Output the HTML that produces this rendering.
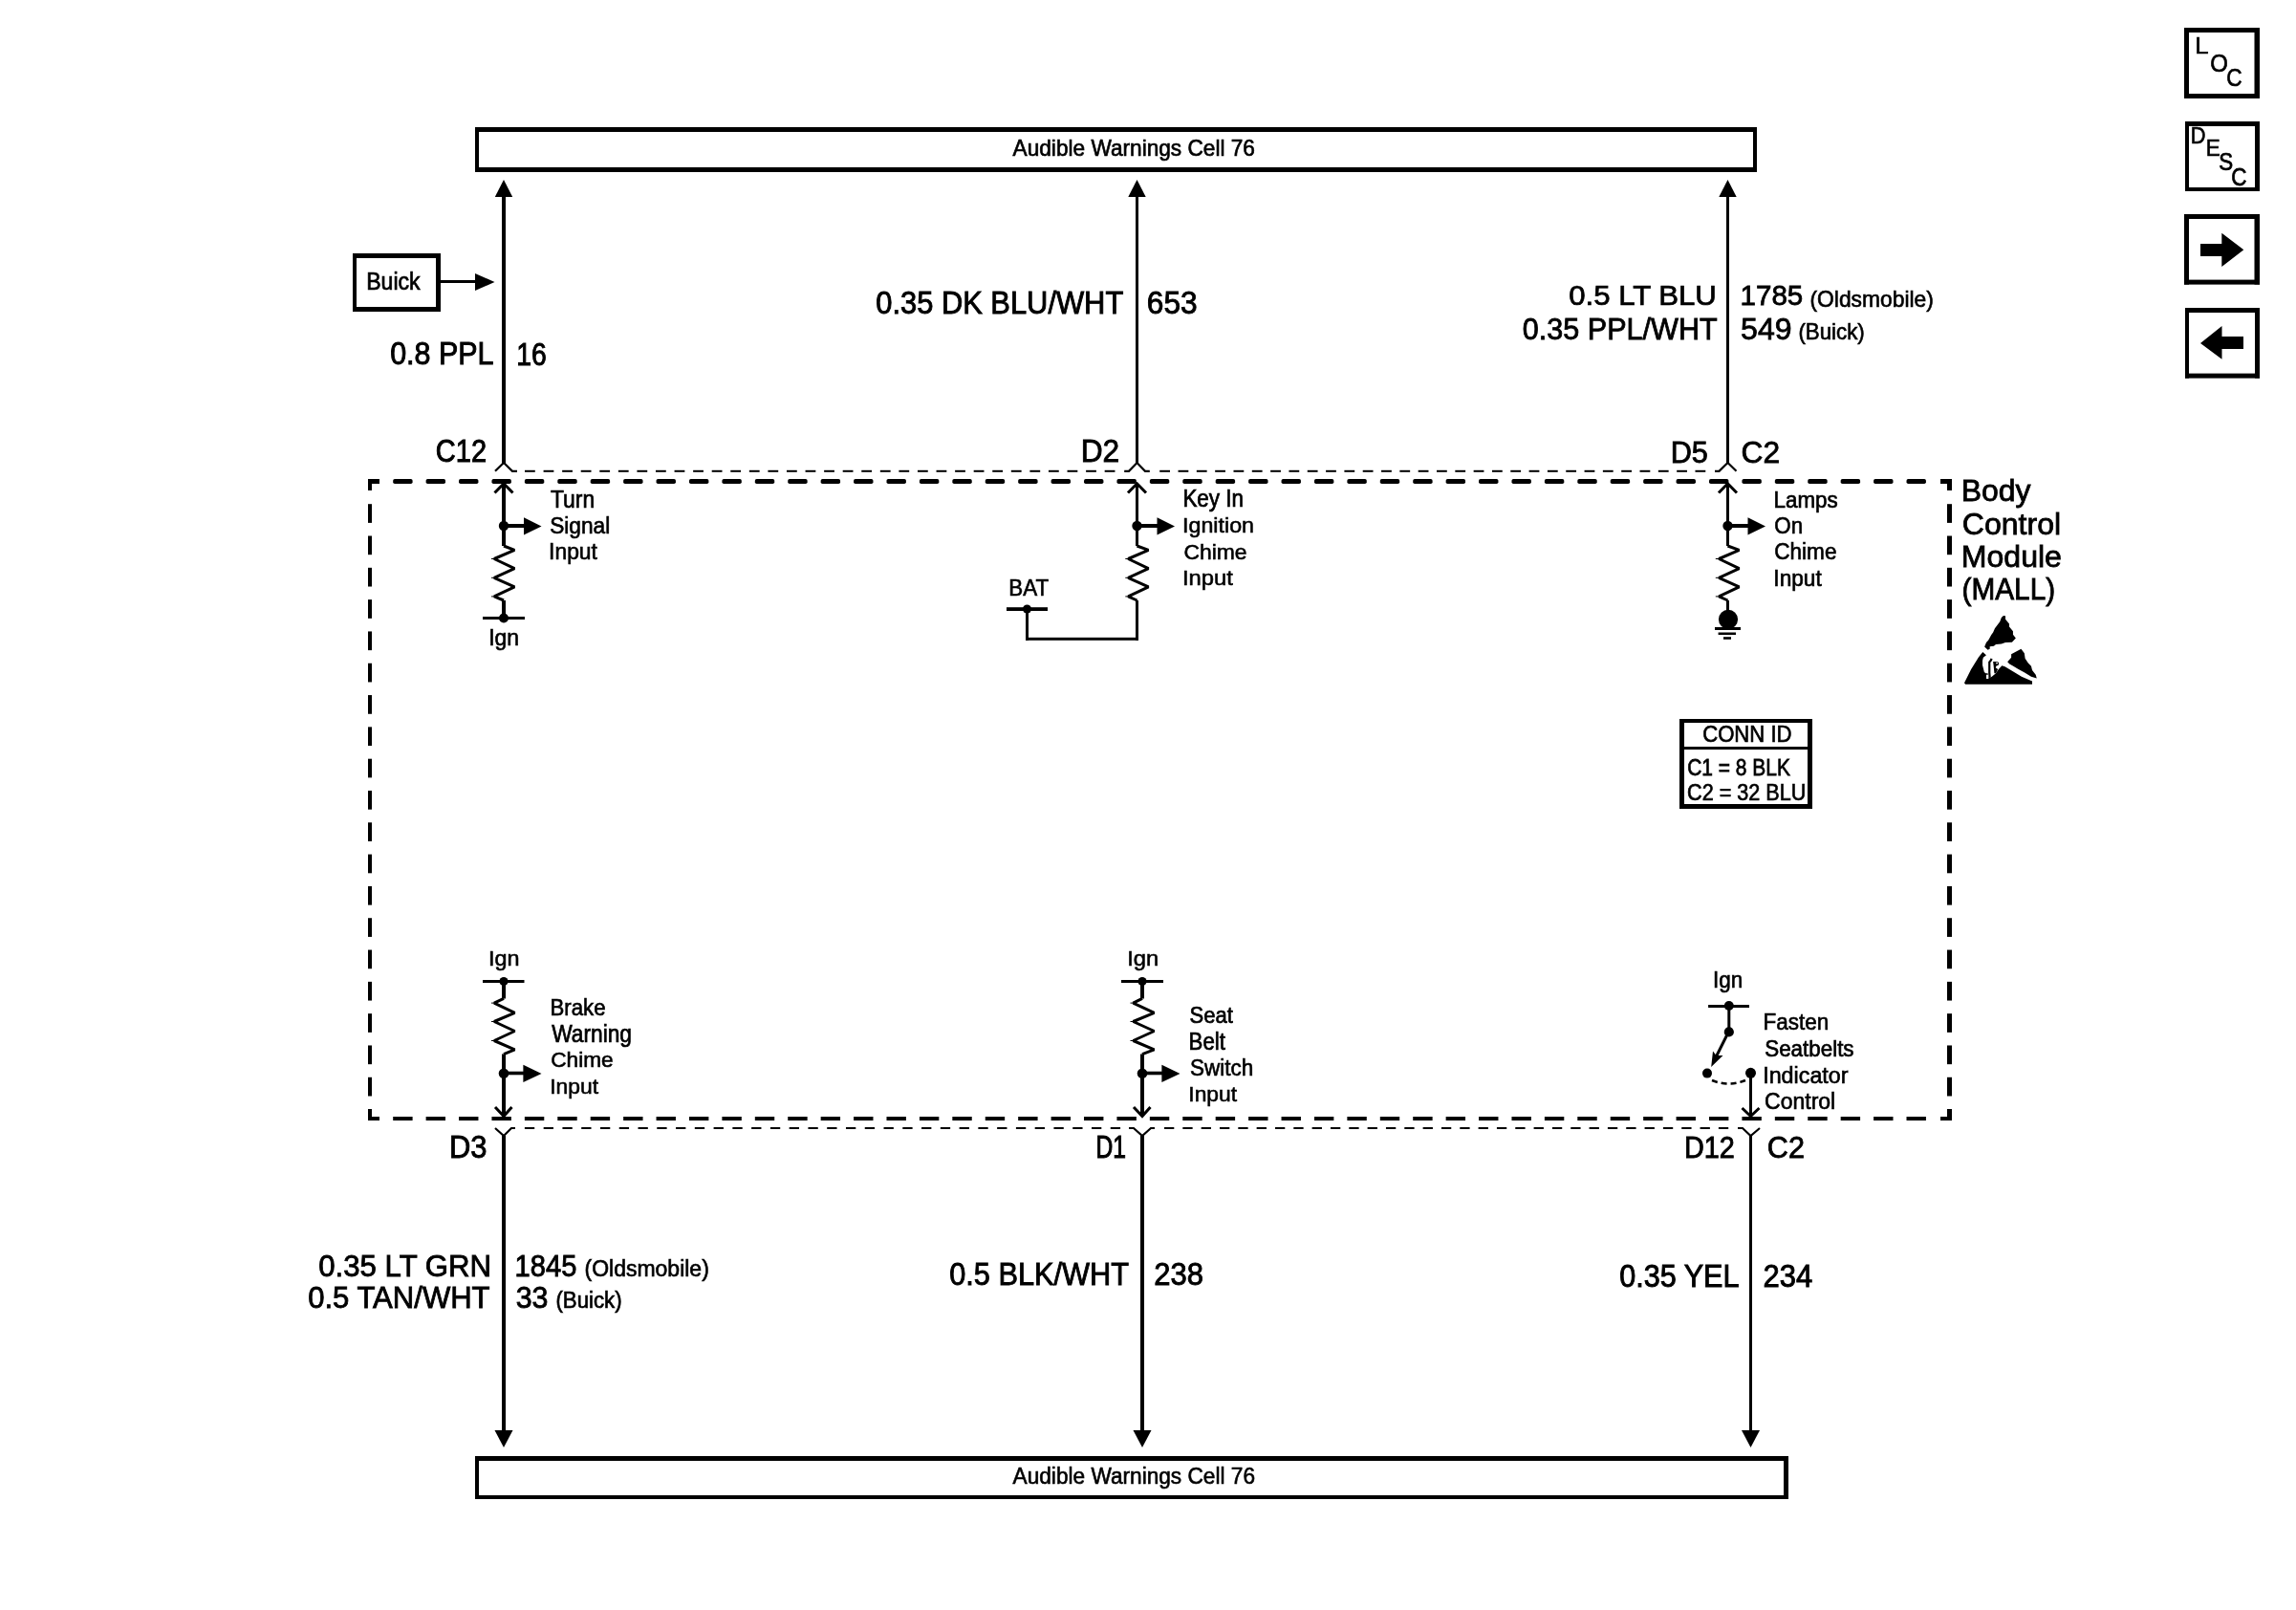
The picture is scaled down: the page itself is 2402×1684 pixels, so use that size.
<!DOCTYPE html>
<html><head><meta charset="utf-8"><style>
html,body{margin:0;padding:0;background:#fff;}
svg{display:block;filter:grayscale(1);}
text{font-family:"Liberation Sans",sans-serif;fill:#000;stroke:#000;}
</style></head><body>
<svg width="2402" height="1684" viewBox="0 0 2402 1684">
<rect x="0" y="0" width="2402" height="1684" fill="#fff"/>
<rect x="497" y="133" width="1341.00" height="5.00"/>
<rect x="497" y="175" width="1341.00" height="5.00"/>
<rect x="497" y="133" width="4.00" height="47.00"/>
<rect x="1834" y="133" width="4.00" height="47.00"/>
<text transform="translate(1059.57,163.38) scale(0.9295,1)" font-size="24.37" stroke-width="0.68">Audible Warnings Cell 76</text>
<rect x="497" y="1523" width="1374.00" height="5.00"/>
<rect x="497" y="1564" width="1374.00" height="4.00"/>
<rect x="497" y="1523" width="4.00" height="45.00"/>
<rect x="1866" y="1523" width="5.00" height="45.00"/>
<text transform="translate(1059.55,1552.20) scale(0.9803,1)" font-size="23.11" stroke-width="0.61">Audible Warnings Cell 76</text>
<polygon points="527.00,188.00 517.80,206.00 536.20,206.00"/>
<rect x="525.0" y="205" width="4.00" height="280.00"/>
<polygon points="1189.50,188.00 1180.30,206.00 1198.70,206.00"/>
<rect x="1188.0" y="205" width="3.00" height="280.00"/>
<polygon points="1807.50,188.00 1798.30,206.00 1816.70,206.00"/>
<rect x="1806.0" y="205" width="3.00" height="280.00"/>
<rect x="525.0" y="1188" width="4.00" height="309.00"/>
<polygon points="517.50,1496.00 536.50,1496.00 527.00,1514.00"/>
<rect x="1193.0" y="1188" width="4.00" height="309.00"/>
<polygon points="1185.50,1496.00 1204.50,1496.00 1195.00,1514.00"/>
<rect x="1830.0" y="1188" width="3.00" height="309.00"/>
<polygon points="1822.00,1496.00 1841.00,1496.00 1831.50,1514.00"/>
<rect x="369" y="265" width="92.00" height="5.00"/>
<rect x="369" y="321" width="92.00" height="5.00"/>
<rect x="369" y="265" width="4.00" height="61.00"/>
<rect x="456" y="265" width="5.00" height="61.00"/>
<text transform="translate(383.13,302.67) scale(0.9169,1)" font-size="25.21" stroke-width="0.71">Buick</text>
<rect x="461" y="293" width="37.00" height="3.00"/>
<polygon points="497.00,286.00 497.00,304.00 517.50,295.00"/>
<text transform="translate(408.15,381.47) scale(0.9103,1)" font-size="33.48" stroke-width="0.95">0.8 PPL</text>
<text transform="translate(540.26,381.68) scale(0.8735,1)" font-size="32.50" stroke-width="0.97">16</text>
<text transform="translate(916.22,327.57) scale(0.9380,1)" font-size="32.92" stroke-width="0.91">0.35 DK BLU/WHT</text>
<text transform="translate(1199.81,327.57) scale(0.9627,1)" font-size="32.92" stroke-width="0.89">653</text>
<text transform="translate(1641.17,319.11) scale(1.0354,1)" font-size="30.11" stroke-width="0.75">0.5 LT BLU</text>
<text transform="translate(1592.81,354.60) scale(0.9922,1)" font-size="30.81" stroke-width="0.81">0.35 PPL/WHT</text>
<text transform="translate(1820.54,319.11) scale(0.9826,1)" font-size="30.11" stroke-width="0.80">1785</text>
<text transform="translate(1893.49,320.69) scale(0.9589,1)" font-size="23.81" stroke-width="0.64">(Oldsmobile)</text>
<text transform="translate(1821.12,354.60) scale(1.0407,1)" font-size="30.81" stroke-width="0.77">549</text>
<text transform="translate(1881.43,354.69) scale(0.9361,1)" font-size="23.81" stroke-width="0.66">(Buick)</text>
<text transform="translate(455.84,483.08) scale(0.8942,1)" font-size="32.50" stroke-width="0.94">C12</text>
<text transform="translate(1130.72,483.08) scale(0.9720,1)" font-size="32.64" stroke-width="0.87">D2</text>
<text transform="translate(1747.70,483.58) scale(0.9512,1)" font-size="32.22" stroke-width="0.88">D5</text>
<text transform="translate(1821.60,483.58) scale(0.9854,1)" font-size="32.22" stroke-width="0.85">C2</text>
<path d="M518,492.8 L527,484 L536,492.8 L541,492.8" fill="none" stroke="#000" stroke-width="2.2" stroke-linecap="butt" stroke-linejoin="miter" />
<path d="M1176.2,492.8 L1181,492.8 L1189.5,484 L1198,492.8 L1202.8,492.8" fill="none" stroke="#000" stroke-width="2.2" stroke-linecap="butt" stroke-linejoin="miter" />
<path d="M1794,492.8 L1798.5,492.8 L1807.5,484 L1816.5,492.8" fill="none" stroke="#000" stroke-width="2.2" stroke-linecap="butt" stroke-linejoin="miter" />
<rect x="549" y="491.8" width="10.80" height="2.00"/>
<rect x="568.57" y="491.8" width="10.80" height="2.00"/>
<rect x="588.14" y="491.8" width="10.80" height="2.00"/>
<rect x="607.71" y="491.8" width="10.80" height="2.00"/>
<rect x="627.28" y="491.8" width="10.80" height="2.00"/>
<rect x="646.85" y="491.8" width="10.80" height="2.00"/>
<rect x="666.42" y="491.8" width="10.80" height="2.00"/>
<rect x="685.99" y="491.8" width="10.80" height="2.00"/>
<rect x="705.56" y="491.8" width="10.80" height="2.00"/>
<rect x="725.13" y="491.8" width="10.80" height="2.00"/>
<rect x="744.7" y="491.8" width="10.80" height="2.00"/>
<rect x="764.27" y="491.8" width="10.80" height="2.00"/>
<rect x="783.84" y="491.8" width="10.80" height="2.00"/>
<rect x="803.41" y="491.8" width="10.80" height="2.00"/>
<rect x="822.98" y="491.8" width="10.80" height="2.00"/>
<rect x="842.55" y="491.8" width="10.80" height="2.00"/>
<rect x="862.12" y="491.8" width="10.80" height="2.00"/>
<rect x="881.69" y="491.8" width="10.80" height="2.00"/>
<rect x="901.26" y="491.8" width="10.80" height="2.00"/>
<rect x="920.83" y="491.8" width="10.80" height="2.00"/>
<rect x="940.4" y="491.8" width="10.80" height="2.00"/>
<rect x="959.97" y="491.8" width="10.80" height="2.00"/>
<rect x="979.54" y="491.8" width="10.80" height="2.00"/>
<rect x="999.11" y="491.8" width="10.80" height="2.00"/>
<rect x="1018.68" y="491.8" width="10.80" height="2.00"/>
<rect x="1038.25" y="491.8" width="10.80" height="2.00"/>
<rect x="1057.82" y="491.8" width="10.80" height="2.00"/>
<rect x="1077.39" y="491.8" width="10.80" height="2.00"/>
<rect x="1096.96" y="491.8" width="10.80" height="2.00"/>
<rect x="1116.53" y="491.8" width="10.80" height="2.00"/>
<rect x="1136.1" y="491.8" width="10.80" height="2.00"/>
<rect x="1155.67" y="491.8" width="10.80" height="2.00"/>
<rect x="1213.2" y="491.8" width="10.80" height="2.00"/>
<rect x="1232.52" y="491.8" width="10.80" height="2.00"/>
<rect x="1251.84" y="491.8" width="10.80" height="2.00"/>
<rect x="1271.16" y="491.8" width="10.80" height="2.00"/>
<rect x="1290.48" y="491.8" width="10.80" height="2.00"/>
<rect x="1309.8" y="491.8" width="10.80" height="2.00"/>
<rect x="1329.12" y="491.8" width="10.80" height="2.00"/>
<rect x="1348.44" y="491.8" width="10.80" height="2.00"/>
<rect x="1367.76" y="491.8" width="10.80" height="2.00"/>
<rect x="1387.08" y="491.8" width="10.80" height="2.00"/>
<rect x="1406.4" y="491.8" width="10.80" height="2.00"/>
<rect x="1425.72" y="491.8" width="10.80" height="2.00"/>
<rect x="1445.04" y="491.8" width="10.80" height="2.00"/>
<rect x="1464.36" y="491.8" width="10.80" height="2.00"/>
<rect x="1483.68" y="491.8" width="10.80" height="2.00"/>
<rect x="1503.0" y="491.8" width="10.80" height="2.00"/>
<rect x="1522.32" y="491.8" width="10.80" height="2.00"/>
<rect x="1541.64" y="491.8" width="10.80" height="2.00"/>
<rect x="1560.96" y="491.8" width="10.80" height="2.00"/>
<rect x="1580.28" y="491.8" width="10.80" height="2.00"/>
<rect x="1599.6" y="491.8" width="10.80" height="2.00"/>
<rect x="1618.92" y="491.8" width="10.80" height="2.00"/>
<rect x="1638.24" y="491.8" width="10.80" height="2.00"/>
<rect x="1657.56" y="491.8" width="10.80" height="2.00"/>
<rect x="1676.88" y="491.8" width="10.80" height="2.00"/>
<rect x="1696.2" y="491.8" width="10.80" height="2.00"/>
<rect x="1715.52" y="491.8" width="10.80" height="2.00"/>
<rect x="1734.84" y="491.8" width="10.80" height="2.00"/>
<rect x="1754.16" y="491.8" width="10.80" height="2.00"/>
<rect x="1773.48" y="491.8" width="10.80" height="2.00"/>
<rect x="385" y="501" width="12.00" height="5.00"/>
<rect x="2030" y="501" width="12.00" height="5.00"/>
<rect x="411.20" y="501" width="20.4" height="5" rx="1.8"/>
<rect x="445.62" y="501" width="20.4" height="5" rx="1.8"/>
<rect x="480.04" y="501" width="20.4" height="5" rx="1.8"/>
<rect x="514.46" y="501" width="20.4" height="5" rx="1.8"/>
<rect x="548.88" y="501" width="20.4" height="5" rx="1.8"/>
<rect x="583.30" y="501" width="20.4" height="5" rx="1.8"/>
<rect x="617.72" y="501" width="20.4" height="5" rx="1.8"/>
<rect x="652.14" y="501" width="20.4" height="5" rx="1.8"/>
<rect x="686.56" y="501" width="20.4" height="5" rx="1.8"/>
<rect x="720.98" y="501" width="20.4" height="5" rx="1.8"/>
<rect x="755.40" y="501" width="20.4" height="5" rx="1.8"/>
<rect x="789.82" y="501" width="20.4" height="5" rx="1.8"/>
<rect x="824.24" y="501" width="20.4" height="5" rx="1.8"/>
<rect x="858.66" y="501" width="20.4" height="5" rx="1.8"/>
<rect x="893.08" y="501" width="20.4" height="5" rx="1.8"/>
<rect x="927.50" y="501" width="20.4" height="5" rx="1.8"/>
<rect x="961.92" y="501" width="20.4" height="5" rx="1.8"/>
<rect x="996.34" y="501" width="20.4" height="5" rx="1.8"/>
<rect x="1030.76" y="501" width="20.4" height="5" rx="1.8"/>
<rect x="1065.18" y="501" width="20.4" height="5" rx="1.8"/>
<rect x="1099.60" y="501" width="20.4" height="5" rx="1.8"/>
<rect x="1134.02" y="501" width="20.4" height="5" rx="1.8"/>
<rect x="1168.44" y="501" width="20.4" height="5" rx="1.8"/>
<rect x="1202.86" y="501" width="20.4" height="5" rx="1.8"/>
<rect x="1237.28" y="501" width="20.4" height="5" rx="1.8"/>
<rect x="1271.70" y="501" width="20.4" height="5" rx="1.8"/>
<rect x="1306.12" y="501" width="20.4" height="5" rx="1.8"/>
<rect x="1340.54" y="501" width="20.4" height="5" rx="1.8"/>
<rect x="1374.96" y="501" width="20.4" height="5" rx="1.8"/>
<rect x="1409.38" y="501" width="20.4" height="5" rx="1.8"/>
<rect x="1443.80" y="501" width="20.4" height="5" rx="1.8"/>
<rect x="1478.22" y="501" width="20.4" height="5" rx="1.8"/>
<rect x="1512.64" y="501" width="20.4" height="5" rx="1.8"/>
<rect x="1547.06" y="501" width="20.4" height="5" rx="1.8"/>
<rect x="1581.48" y="501" width="20.4" height="5" rx="1.8"/>
<rect x="1615.90" y="501" width="20.4" height="5" rx="1.8"/>
<rect x="1650.32" y="501" width="20.4" height="5" rx="1.8"/>
<rect x="1684.74" y="501" width="20.4" height="5" rx="1.8"/>
<rect x="1719.16" y="501" width="20.4" height="5" rx="1.8"/>
<rect x="1753.58" y="501" width="20.4" height="5" rx="1.8"/>
<rect x="1788.00" y="501" width="20.4" height="5" rx="1.8"/>
<rect x="1822.42" y="501" width="20.4" height="5" rx="1.8"/>
<rect x="1856.84" y="501" width="20.4" height="5" rx="1.8"/>
<rect x="1891.26" y="501" width="20.4" height="5" rx="1.8"/>
<rect x="1925.68" y="501" width="20.4" height="5" rx="1.8"/>
<rect x="1960.10" y="501" width="20.4" height="5" rx="1.8"/>
<rect x="1994.52" y="501" width="20.4" height="5" rx="1.8"/>
<rect x="385" y="1168" width="12.00" height="4.00"/>
<rect x="2030" y="1168" width="12.00" height="4.00"/>
<rect x="411.2" y="1168" width="20.40" height="4.00"/>
<rect x="445.62" y="1168" width="20.40" height="4.00"/>
<rect x="480.04" y="1168" width="20.40" height="4.00"/>
<rect x="514.46" y="1168" width="20.40" height="4.00"/>
<rect x="548.88" y="1168" width="20.40" height="4.00"/>
<rect x="583.3" y="1168" width="20.40" height="4.00"/>
<rect x="617.72" y="1168" width="20.40" height="4.00"/>
<rect x="652.14" y="1168" width="20.40" height="4.00"/>
<rect x="686.56" y="1168" width="20.40" height="4.00"/>
<rect x="720.98" y="1168" width="20.40" height="4.00"/>
<rect x="755.4" y="1168" width="20.40" height="4.00"/>
<rect x="789.82" y="1168" width="20.40" height="4.00"/>
<rect x="824.24" y="1168" width="20.40" height="4.00"/>
<rect x="858.66" y="1168" width="20.40" height="4.00"/>
<rect x="893.08" y="1168" width="20.40" height="4.00"/>
<rect x="927.5" y="1168" width="20.40" height="4.00"/>
<rect x="961.92" y="1168" width="20.40" height="4.00"/>
<rect x="996.34" y="1168" width="20.40" height="4.00"/>
<rect x="1030.76" y="1168" width="20.40" height="4.00"/>
<rect x="1065.18" y="1168" width="20.40" height="4.00"/>
<rect x="1099.6" y="1168" width="20.40" height="4.00"/>
<rect x="1134.02" y="1168" width="20.40" height="4.00"/>
<rect x="1168.44" y="1168" width="20.40" height="4.00"/>
<rect x="1202.86" y="1168" width="20.40" height="4.00"/>
<rect x="1237.28" y="1168" width="20.40" height="4.00"/>
<rect x="1271.7" y="1168" width="20.40" height="4.00"/>
<rect x="1306.12" y="1168" width="20.40" height="4.00"/>
<rect x="1340.54" y="1168" width="20.40" height="4.00"/>
<rect x="1374.96" y="1168" width="20.40" height="4.00"/>
<rect x="1409.38" y="1168" width="20.40" height="4.00"/>
<rect x="1443.8" y="1168" width="20.40" height="4.00"/>
<rect x="1478.22" y="1168" width="20.40" height="4.00"/>
<rect x="1512.64" y="1168" width="20.40" height="4.00"/>
<rect x="1547.06" y="1168" width="20.40" height="4.00"/>
<rect x="1581.48" y="1168" width="20.40" height="4.00"/>
<rect x="1615.9" y="1168" width="20.40" height="4.00"/>
<rect x="1650.32" y="1168" width="20.40" height="4.00"/>
<rect x="1684.74" y="1168" width="20.40" height="4.00"/>
<rect x="1719.16" y="1168" width="20.40" height="4.00"/>
<rect x="1753.58" y="1168" width="20.40" height="4.00"/>
<rect x="1788.0" y="1168" width="20.40" height="4.00"/>
<rect x="1822.42" y="1168" width="20.40" height="4.00"/>
<rect x="1856.84" y="1168" width="20.40" height="4.00"/>
<rect x="1891.26" y="1168" width="20.40" height="4.00"/>
<rect x="1925.68" y="1168" width="20.40" height="4.00"/>
<rect x="1960.1" y="1168" width="20.40" height="4.00"/>
<rect x="1994.52" y="1168" width="20.40" height="4.00"/>
<rect x="385" y="501" width="4.00" height="12.00"/>
<rect x="385" y="1160" width="4.00" height="12.00"/>
<rect x="2037" y="501" width="5.00" height="12.00"/>
<rect x="2037" y="1160" width="5.00" height="12.00"/>
<rect x="385" y="527.2" width="4.00" height="19.70"/>
<rect x="2037" y="527.2" width="5.00" height="19.70"/>
<rect x="385" y="560.51" width="4.00" height="19.70"/>
<rect x="2037" y="560.51" width="5.00" height="19.70"/>
<rect x="385" y="593.82" width="4.00" height="19.70"/>
<rect x="2037" y="593.82" width="5.00" height="19.70"/>
<rect x="385" y="627.13" width="4.00" height="19.70"/>
<rect x="2037" y="627.13" width="5.00" height="19.70"/>
<rect x="385" y="660.44" width="4.00" height="19.70"/>
<rect x="2037" y="660.44" width="5.00" height="19.70"/>
<rect x="385" y="693.75" width="4.00" height="19.70"/>
<rect x="2037" y="693.75" width="5.00" height="19.70"/>
<rect x="385" y="727.06" width="4.00" height="19.70"/>
<rect x="2037" y="727.06" width="5.00" height="19.70"/>
<rect x="385" y="760.37" width="4.00" height="19.70"/>
<rect x="2037" y="760.37" width="5.00" height="19.70"/>
<rect x="385" y="793.68" width="4.00" height="19.70"/>
<rect x="2037" y="793.68" width="5.00" height="19.70"/>
<rect x="385" y="826.99" width="4.00" height="19.70"/>
<rect x="2037" y="826.99" width="5.00" height="19.70"/>
<rect x="385" y="860.3" width="4.00" height="19.70"/>
<rect x="2037" y="860.3" width="5.00" height="19.70"/>
<rect x="385" y="893.61" width="4.00" height="19.70"/>
<rect x="2037" y="893.61" width="5.00" height="19.70"/>
<rect x="385" y="926.92" width="4.00" height="19.70"/>
<rect x="2037" y="926.92" width="5.00" height="19.70"/>
<rect x="385" y="960.23" width="4.00" height="19.70"/>
<rect x="2037" y="960.23" width="5.00" height="19.70"/>
<rect x="385" y="993.54" width="4.00" height="19.70"/>
<rect x="2037" y="993.54" width="5.00" height="19.70"/>
<rect x="385" y="1026.85" width="4.00" height="19.70"/>
<rect x="2037" y="1026.85" width="5.00" height="19.70"/>
<rect x="385" y="1060.16" width="4.00" height="19.70"/>
<rect x="2037" y="1060.16" width="5.00" height="19.70"/>
<rect x="385" y="1093.47" width="4.00" height="19.70"/>
<rect x="2037" y="1093.47" width="5.00" height="19.70"/>
<rect x="385" y="1126.78" width="4.00" height="19.70"/>
<rect x="2037" y="1126.78" width="5.00" height="19.70"/>
<path d="M517.5,515.5 L527,505.8 L536.5,515.5" fill="none" stroke="#000" stroke-width="3.0" stroke-linecap="butt" stroke-linejoin="miter" />
<rect x="525" y="506" width="4.00" height="65.00"/>
<circle cx="527" cy="550" r="5.2"/>
<rect x="527" y="548" width="22.00" height="4.00"/>
<polygon points="548.00,541.30 548.00,559.60 566.50,550.50"/>
<path d="M1180.0,515.5 L1189.5,505.8 L1199.0,515.5" fill="none" stroke="#000" stroke-width="3.0" stroke-linecap="butt" stroke-linejoin="miter" />
<rect x="1188.0" y="506" width="3.00" height="65.00"/>
<circle cx="1189.5" cy="550" r="5.2"/>
<rect x="1189.5" y="548" width="22.00" height="4.00"/>
<polygon points="1210.50,541.30 1210.50,559.60 1229.00,550.50"/>
<path d="M1798.0,515.5 L1807.5,505.8 L1817.0,515.5" fill="none" stroke="#000" stroke-width="3.0" stroke-linecap="butt" stroke-linejoin="miter" />
<rect x="1806.0" y="506" width="3.00" height="65.00"/>
<circle cx="1807.5" cy="550" r="5.2"/>
<rect x="1807.5" y="548" width="22.00" height="4.00"/>
<polygon points="1828.50,541.30 1828.50,559.60 1847.00,550.50"/>
<path d="M527.00,571.00 L538.30,575.40 L517.00,584.50 L538.30,594.60 L517.00,604.30 L538.30,613.90 L517.00,623.90 L527.00,628.00" fill="none" stroke="#000" stroke-width="3.0" stroke-linecap="butt" stroke-linejoin="bevel" />
<rect x="514.0" y="584.0" width="3.00" height="1.00"/>
<rect x="514.0" y="603.8" width="3.00" height="1.00"/>
<rect x="514.0" y="623.4" width="3.00" height="1.00"/>
<path d="M1189.50,571.00 L1201.50,575.40 L1180.30,584.50 L1201.50,594.60 L1180.30,604.30 L1201.50,613.90 L1180.30,623.90 L1189.50,628.00" fill="none" stroke="#000" stroke-width="3.0" stroke-linecap="butt" stroke-linejoin="bevel" />
<rect x="1177.3" y="584.0" width="3.00" height="1.00"/>
<rect x="1177.3" y="603.8" width="3.00" height="1.00"/>
<rect x="1177.3" y="623.4" width="3.00" height="1.00"/>
<path d="M1807.50,571.00 L1819.50,575.40 L1798.30,584.50 L1819.50,594.60 L1798.30,604.30 L1819.50,613.90 L1798.30,623.90 L1807.50,628.00" fill="none" stroke="#000" stroke-width="3.0" stroke-linecap="butt" stroke-linejoin="bevel" />
<rect x="1794.8" y="584.0" width="3.50" height="1.00"/>
<rect x="1794.8" y="603.8" width="3.50" height="1.00"/>
<rect x="1794.8" y="623.4" width="3.50" height="1.00"/>
<rect x="525" y="628" width="4.00" height="18.50"/>
<rect x="505" y="645" width="44.00" height="3.00"/>
<circle cx="527" cy="646.5" r="5"/>
<text transform="translate(511.19,674.89) scale(0.9726,1)" font-size="23.67" stroke-width="0.63">Ign</text>
<text transform="translate(575.92,531.48) scale(0.9187,1)" font-size="24.93" stroke-width="0.70">Turn</text>
<text transform="translate(575.17,558.49) scale(0.9357,1)" font-size="24.23" stroke-width="0.67">Signal</text>
<text transform="translate(574.10,585.40) scale(0.9776,1)" font-size="23.39" stroke-width="0.62">Input</text>
<text transform="translate(1237.38,530.37) scale(0.8970,1)" font-size="25.07" stroke-width="0.73">Key In</text>
<text transform="translate(1237.05,557.21) scale(1.0376,1)" font-size="22.41" stroke-width="0.56">Ignition</text>
<text transform="translate(1238.43,584.70) scale(0.9953,1)" font-size="22.97" stroke-width="0.60">Chime</text>
<text transform="translate(1237.00,612.01) scale(1.0608,1)" font-size="22.41" stroke-width="0.55">Input</text>
<text transform="translate(1855.58,531.18) scale(0.9084,1)" font-size="24.65" stroke-width="0.70">Lamps</text>
<text transform="translate(1856.36,557.99) scale(0.9490,1)" font-size="23.53" stroke-width="0.64">On</text>
<text transform="translate(1856.25,585.30) scale(0.9709,1)" font-size="23.25" stroke-width="0.62">Chime</text>
<text transform="translate(1855.33,612.89) scale(0.9355,1)" font-size="24.23" stroke-width="0.67">Input</text>
<rect x="1188" y="628" width="3.00" height="41.80"/>
<rect x="1073" y="666.8" width="118.00" height="3.00"/>
<rect x="1073" y="637" width="3.00" height="32.80"/>
<rect x="1053" y="635.2" width="43.00" height="3.80"/>
<circle cx="1074.5" cy="637" r="4.6"/>
<text transform="translate(1055.26,622.70) scale(0.9703,1)" font-size="23.11" stroke-width="0.62">BAT</text>
<rect x="1806" y="628" width="3.00" height="17.00"/>
<circle cx="1808" cy="647.8" r="10.1"/>
<rect x="1794" y="656" width="27.00" height="3.00"/>
<rect x="1797.6" y="661.5" width="18.40" height="2.50"/>
<rect x="1803" y="666.2" width="8.00" height="2.60"/>
<text transform="translate(2051.78,524.20) scale(1.0317,1)" font-size="30.95" stroke-width="0.78">Body</text>
<text transform="translate(2052.77,559.30) scale(1.0315,1)" font-size="31.09" stroke-width="0.78">Control</text>
<text transform="translate(2051.77,592.60) scale(1.0413,1)" font-size="30.81" stroke-width="0.77">Module</text>
<text transform="translate(2052.56,626.80) scale(0.9574,1)" font-size="31.09" stroke-width="0.84">(MALL)</text>
<rect x="1757" y="752" width="139.00" height="4.00"/>
<rect x="1757" y="841" width="139.00" height="5.00"/>
<rect x="1757" y="752" width="5.00" height="94.00"/>
<rect x="1891" y="752" width="5.00" height="94.00"/>
<rect x="1762" y="781" width="129.00" height="3.00"/>
<text transform="translate(1781.18,776.49) scale(0.9409,1)" font-size="23.53" stroke-width="0.65">CONN ID</text>
<text transform="translate(1765.15,811.38) scale(0.8462,1)" font-size="24.79" stroke-width="0.76">C1 = 8 BLK</text>
<text transform="translate(1765.11,836.69) scale(0.9070,1)" font-size="23.81" stroke-width="0.68">C2 = 32 BLU</text>
<rect x="505" y="1025" width="43.50" height="3.00"/>
<circle cx="527" cy="1026.5" r="4.6"/>
<rect x="525.0" y="1026" width="4.00" height="18.50"/>
<path d="M527.00,1044.30 L517.00,1049.10 L538.50,1059.30 L517.00,1068.50 L538.50,1078.50 L517.00,1088.50 L538.50,1097.80 L527.00,1102.60" fill="none" stroke="#000" stroke-width="3.0" stroke-linecap="butt" stroke-linejoin="bevel" />
<rect x="514.0" y="1048.6" width="3.00" height="1.00"/>
<rect x="514.0" y="1068.0" width="3.00" height="1.00"/>
<rect x="514.0" y="1088.0" width="3.00" height="1.00"/>
<rect x="525.0" y="1102.5" width="4.00" height="64.50"/>
<circle cx="527" cy="1122.7" r="5.3"/>
<rect x="527" y="1120.7" width="21.00" height="3.60"/>
<polygon points="547.40,1113.80 547.40,1132.00 566.50,1122.90"/>
<path d="M518,1158 L527,1167.5 L535.5,1158" fill="none" stroke="#000" stroke-width="3.0" stroke-linecap="butt" stroke-linejoin="miter" />
<path d="M518,1180 L527,1188 L535,1180 L539,1180" fill="none" stroke="#000" stroke-width="2.2" stroke-linecap="butt" stroke-linejoin="miter" />
<rect x="1173" y="1025" width="44.00" height="3.00"/>
<circle cx="1195" cy="1026.5" r="4.6"/>
<rect x="1193.0" y="1026" width="4.00" height="18.50"/>
<path d="M1195.00,1044.30 L1185.50,1049.10 L1207.50,1059.30 L1185.50,1068.50 L1207.50,1078.50 L1185.50,1088.50 L1207.50,1097.80 L1195.00,1102.60" fill="none" stroke="#000" stroke-width="3.0" stroke-linecap="butt" stroke-linejoin="bevel" />
<rect x="1182.5" y="1048.6" width="3.00" height="1.00"/>
<rect x="1182.5" y="1068.0" width="3.00" height="1.00"/>
<rect x="1182.5" y="1088.0" width="3.00" height="1.00"/>
<rect x="1193.0" y="1102.5" width="4.00" height="64.50"/>
<circle cx="1195" cy="1122.7" r="5.3"/>
<rect x="1195" y="1120.7" width="21.00" height="3.60"/>
<polygon points="1215.40,1113.80 1215.40,1132.00 1234.50,1122.90"/>
<path d="M1186,1158 L1195,1167.5 L1203.5,1158" fill="none" stroke="#000" stroke-width="3.0" stroke-linecap="butt" stroke-linejoin="miter" />
<path d="M1181,1180 L1186,1180 L1195,1188 L1204,1180 L1208,1180" fill="none" stroke="#000" stroke-width="2.2" stroke-linecap="butt" stroke-linejoin="miter" />
<text transform="translate(510.95,1009.50) scale(1.0170,1)" font-size="22.97" stroke-width="0.59">Ign</text>
<text transform="translate(1179.21,1009.50) scale(1.0346,1)" font-size="22.97" stroke-width="0.58">Ign</text>
<text transform="translate(575.49,1061.69) scale(0.9339,1)" font-size="23.81" stroke-width="0.66">Brake</text>
<text transform="translate(577.21,1089.57) scale(0.9070,1)" font-size="25.07" stroke-width="0.72">Warning</text>
<text transform="translate(576.14,1116.00) scale(0.9937,1)" font-size="22.83" stroke-width="0.60">Chime</text>
<text transform="translate(575.19,1143.51) scale(1.0082,1)" font-size="22.69" stroke-width="0.58">Input</text>
<text transform="translate(1244.60,1069.68) scale(0.8991,1)" font-size="24.51" stroke-width="0.71">Seat</text>
<text transform="translate(1243.60,1097.57) scale(0.8873,1)" font-size="25.07" stroke-width="0.73">Belt</text>
<text transform="translate(1245.07,1124.60) scale(0.9667,1)" font-size="23.25" stroke-width="0.62">Switch</text>
<text transform="translate(1243.29,1151.61) scale(1.0188,1)" font-size="22.41" stroke-width="0.57">Input</text>
<text transform="translate(1844.46,1077.40) scale(0.9622,1)" font-size="23.39" stroke-width="0.63">Fasten</text>
<text transform="translate(1846.19,1105.38) scale(0.9140,1)" font-size="24.51" stroke-width="0.70">Seatbelts</text>
<text transform="translate(1844.16,1132.59) scale(0.9910,1)" font-size="23.53" stroke-width="0.62">Indicator</text>
<text transform="translate(1846.04,1160.49) scale(0.9555,1)" font-size="24.09" stroke-width="0.65">Control</text>
<rect x="1787.1" y="1051" width="42.90" height="3.00"/>
<circle cx="1808.8" cy="1052" r="5"/>
<rect x="1807.3" y="1052" width="3.00" height="27.00"/>
<circle cx="1808.8" cy="1079.4" r="5.1"/>
<path d="M1807,1082 L1795,1106" fill="none" stroke="#000" stroke-width="3" stroke-linecap="butt" stroke-linejoin="miter" />
<polygon points="1790.20,1116.00 1792.00,1099.50 1795.50,1104.00 1802.50,1104.00"/>
<circle cx="1786" cy="1122.6" r="5"/>
<circle cx="1831.5" cy="1122.3" r="5.5"/>
<path d="M1791,1130 Q1808.5,1137 1826,1130" fill="none" stroke="#000" stroke-width="2.5" stroke-linecap="butt" stroke-linejoin="miter" stroke-dasharray="6 4"/>
<rect x="1830" y="1122" width="3.00" height="45.00"/>
<path d="M1822.5,1159 L1831.5,1167.5 L1840.5,1159" fill="none" stroke="#000" stroke-width="3.0" stroke-linecap="butt" stroke-linejoin="miter" />
<path d="M1818,1180 L1823,1180 L1831.5,1188 L1841,1180" fill="none" stroke="#000" stroke-width="2.2" stroke-linecap="butt" stroke-linejoin="miter" />
<text transform="translate(1791.94,1032.80) scale(0.9661,1)" font-size="23.25" stroke-width="0.62">Ign</text>
<rect x="548.9" y="1179.0" width="10.30" height="2.00"/>
<rect x="568.67" y="1179.0" width="10.30" height="2.00"/>
<rect x="588.44" y="1179.0" width="10.30" height="2.00"/>
<rect x="608.21" y="1179.0" width="10.30" height="2.00"/>
<rect x="627.98" y="1179.0" width="10.30" height="2.00"/>
<rect x="647.75" y="1179.0" width="10.30" height="2.00"/>
<rect x="667.52" y="1179.0" width="10.30" height="2.00"/>
<rect x="687.29" y="1179.0" width="10.30" height="2.00"/>
<rect x="707.06" y="1179.0" width="10.30" height="2.00"/>
<rect x="726.83" y="1179.0" width="10.30" height="2.00"/>
<rect x="746.6" y="1179.0" width="10.30" height="2.00"/>
<rect x="766.37" y="1179.0" width="10.30" height="2.00"/>
<rect x="786.14" y="1179.0" width="10.30" height="2.00"/>
<rect x="805.91" y="1179.0" width="10.30" height="2.00"/>
<rect x="825.68" y="1179.0" width="10.30" height="2.00"/>
<rect x="845.45" y="1179.0" width="10.30" height="2.00"/>
<rect x="865.22" y="1179.0" width="10.30" height="2.00"/>
<rect x="884.99" y="1179.0" width="10.30" height="2.00"/>
<rect x="904.76" y="1179.0" width="10.30" height="2.00"/>
<rect x="924.53" y="1179.0" width="10.30" height="2.00"/>
<rect x="944.3" y="1179.0" width="10.30" height="2.00"/>
<rect x="964.07" y="1179.0" width="10.30" height="2.00"/>
<rect x="983.84" y="1179.0" width="10.30" height="2.00"/>
<rect x="1003.61" y="1179.0" width="10.30" height="2.00"/>
<rect x="1023.38" y="1179.0" width="10.30" height="2.00"/>
<rect x="1043.15" y="1179.0" width="10.30" height="2.00"/>
<rect x="1062.92" y="1179.0" width="10.30" height="2.00"/>
<rect x="1082.69" y="1179.0" width="10.30" height="2.00"/>
<rect x="1102.46" y="1179.0" width="10.30" height="2.00"/>
<rect x="1122.23" y="1179.0" width="10.30" height="2.00"/>
<rect x="1142.0" y="1179.0" width="10.30" height="2.00"/>
<rect x="1161.77" y="1179.0" width="10.30" height="2.00"/>
<rect x="1218" y="1179.0" width="10.30" height="2.00"/>
<rect x="1237.33" y="1179.0" width="10.30" height="2.00"/>
<rect x="1256.66" y="1179.0" width="10.30" height="2.00"/>
<rect x="1275.99" y="1179.0" width="10.30" height="2.00"/>
<rect x="1295.32" y="1179.0" width="10.30" height="2.00"/>
<rect x="1314.65" y="1179.0" width="10.30" height="2.00"/>
<rect x="1333.98" y="1179.0" width="10.30" height="2.00"/>
<rect x="1353.31" y="1179.0" width="10.30" height="2.00"/>
<rect x="1372.64" y="1179.0" width="10.30" height="2.00"/>
<rect x="1391.97" y="1179.0" width="10.30" height="2.00"/>
<rect x="1411.3" y="1179.0" width="10.30" height="2.00"/>
<rect x="1430.63" y="1179.0" width="10.30" height="2.00"/>
<rect x="1449.96" y="1179.0" width="10.30" height="2.00"/>
<rect x="1469.29" y="1179.0" width="10.30" height="2.00"/>
<rect x="1488.62" y="1179.0" width="10.30" height="2.00"/>
<rect x="1507.95" y="1179.0" width="10.30" height="2.00"/>
<rect x="1527.28" y="1179.0" width="10.30" height="2.00"/>
<rect x="1546.61" y="1179.0" width="10.30" height="2.00"/>
<rect x="1565.94" y="1179.0" width="10.30" height="2.00"/>
<rect x="1585.27" y="1179.0" width="10.30" height="2.00"/>
<rect x="1604.6" y="1179.0" width="10.30" height="2.00"/>
<rect x="1623.93" y="1179.0" width="10.30" height="2.00"/>
<rect x="1643.26" y="1179.0" width="10.30" height="2.00"/>
<rect x="1662.59" y="1179.0" width="10.30" height="2.00"/>
<rect x="1681.92" y="1179.0" width="10.30" height="2.00"/>
<rect x="1701.25" y="1179.0" width="10.30" height="2.00"/>
<rect x="1720.58" y="1179.0" width="10.30" height="2.00"/>
<rect x="1739.91" y="1179.0" width="10.30" height="2.00"/>
<rect x="1759.24" y="1179.0" width="10.30" height="2.00"/>
<rect x="1778.57" y="1179.0" width="10.30" height="2.00"/>
<rect x="1797.9" y="1179.0" width="10.30" height="2.00"/>
<text transform="translate(469.98,1211.38) scale(0.9567,1)" font-size="32.36" stroke-width="0.88">D3</text>
<text transform="translate(1146.40,1211.38) scale(0.7615,1)" font-size="32.36" stroke-width="1.10">D1</text>
<text transform="translate(1761.95,1210.99) scale(0.9028,1)" font-size="31.94" stroke-width="0.92">D12</text>
<text transform="translate(1848.85,1210.79) scale(0.9657,1)" font-size="31.66" stroke-width="0.85">C2</text>
<text transform="translate(333.20,1334.69) scale(0.9812,1)" font-size="31.80" stroke-width="0.84">0.35 LT GRN</text>
<text transform="translate(322.20,1368.29) scale(0.9772,1)" font-size="31.80" stroke-width="0.84">0.5 TAN/WHT</text>
<text transform="translate(538.60,1334.69) scale(0.9151,1)" font-size="31.80" stroke-width="0.90">1845</text>
<text transform="translate(611.48,1334.79) scale(0.9608,1)" font-size="23.95" stroke-width="0.65">(Oldsmobile)</text>
<text transform="translate(539.66,1368.29) scale(0.9550,1)" font-size="31.80" stroke-width="0.86">33</text>
<text transform="translate(581.44,1368.38) scale(0.8974,1)" font-size="24.79" stroke-width="0.72">(Buick)</text>
<text transform="translate(993.13,1344.17) scale(0.9376,1)" font-size="32.78" stroke-width="0.91">0.5 BLK/WHT</text>
<text transform="translate(1207.17,1344.17) scale(0.9463,1)" font-size="32.78" stroke-width="0.90">238</text>
<text transform="translate(1694.24,1346.27) scale(0.9218,1)" font-size="33.20" stroke-width="0.93">0.35 YEL</text>
<text transform="translate(1844.58,1346.27) scale(0.9335,1)" font-size="33.20" stroke-width="0.92">234</text>
<rect x="2285" y="29" width="79.00" height="5.00"/>
<rect x="2285" y="98" width="79.00" height="5.00"/>
<rect x="2285" y="29" width="5.00" height="74.00"/>
<rect x="2358.5" y="29" width="5.50" height="74.00"/>
<text transform="translate(2296.19,56.49) scale(1.0975,1)" font-size="23.53" stroke-width="0.56">L</text>
<text transform="translate(2312.21,75.41) scale(0.9337,1)" font-size="25.62" stroke-width="0.71">O</text>
<text transform="translate(2329.17,90.23) scale(0.9094,1)" font-size="24.93" stroke-width="0.71">C</text>
<rect x="2286" y="127" width="78.00" height="5.00"/>
<rect x="2286" y="196" width="78.00" height="4.00"/>
<rect x="2286" y="127" width="4.00" height="73.00"/>
<rect x="2359" y="127" width="5.00" height="73.00"/>
<text transform="translate(2291.83,150.09) scale(0.9083,1)" font-size="23.95" stroke-width="0.68">D</text>
<text transform="translate(2307.68,163.48) scale(0.9156,1)" font-size="24.51" stroke-width="0.69">E</text>
<text transform="translate(2321.30,178.12) scale(0.8863,1)" font-size="25.21" stroke-width="0.74">S</text>
<text transform="translate(2334.28,194.12) scale(0.8829,1)" font-size="25.48" stroke-width="0.75">C</text>
<rect x="2285" y="224" width="79.00" height="5.00"/>
<rect x="2285" y="292.6" width="79.00" height="5.00"/>
<rect x="2285" y="224" width="5.00" height="73.60"/>
<rect x="2358.5" y="224" width="5.50" height="73.60"/>
<polygon points="2302.00,255.00 2324.30,255.00 2324.30,243.70 2347.30,261.30 2324.30,279.10 2324.30,268.00 2302.00,268.00"/>
<rect x="2286" y="322" width="78.00" height="5.00"/>
<rect x="2286" y="390.6" width="78.00" height="5.00"/>
<rect x="2286" y="322" width="4.00" height="73.60"/>
<rect x="2359" y="322" width="5.00" height="73.60"/>
<polygon points="2347.00,352.00 2324.50,352.00 2324.50,341.00 2302.00,359.00 2324.50,375.70 2324.50,365.00 2347.00,365.00"/>
<polygon points="2095.92,643.97 2098.04,644.24 2098.04,647.67 2102.00,652.42 2102.00,655.59 2105.95,660.34 2105.95,663.77 2108.86,667.46 2104.90,671.69 2098.04,671.95 2093.81,673.53 2088.01,674.06 2085.90,675.65 2081.67,676.17 2081.67,678.81 2079.56,679.87 2076.13,676.44 2077.98,671.95 2080.09,669.84 2083.26,664.03 2085.10,661.39 2086.95,657.17 2092.23,650.31 2093.81,646.09"/>
<polygon points="2114.40,678.81 2117.83,683.30 2118.62,688.84 2121.79,693.59 2124.96,696.76 2126.01,700.98 2129.71,705.73 2130.76,709.43 2124.96,707.85 2118.10,703.62 2111.23,699.66 2105.43,696.23 2102.26,694.39 2100.15,692.27 2104.11,687.79 2104.11,684.36 2110.18,680.92"/>
<polygon points="2055.01,714.18 2056.07,715.76 2126.01,715.76 2126.01,712.60 2114.93,707.85 2105.43,702.04 2097.51,697.29 2094.34,696.23 2090.65,700.19 2088.01,704.15 2083.78,707.85 2081.67,708.90 2080.62,708.90 2079.56,704.15 2077.45,704.15 2075.87,703.10 2074.02,695.71 2074.02,690.95 2074.81,687.79 2077.98,685.15 2074.28,681.98 2070.06,687.26 2062.14,699.93"/>
<polygon fill="#fff" points="2077.98,705.73 2080.35,705.73 2080.35,709.96 2077.98,709.96"/>
<path d="M2081.67,708.90 L2081.25,703.62 L2081.25,692.54 L2082.99,690.43 L2083.52,688.84" fill="none" stroke="#000" stroke-width="2.2" stroke-linecap="butt" stroke-linejoin="miter" />
<polygon points="2085.10,692.01 2086.95,692.01 2090.12,692.27 2091.17,693.59 2090.65,695.71 2088.53,696.50 2087.74,698.34 2090.12,699.93 2088.01,704.15 2086.42,704.15 2085.63,696.23"/>
<circle fill="#fff" cx="2089.06" cy="693.59" r="0.9"/>
</svg>
</body></html>
